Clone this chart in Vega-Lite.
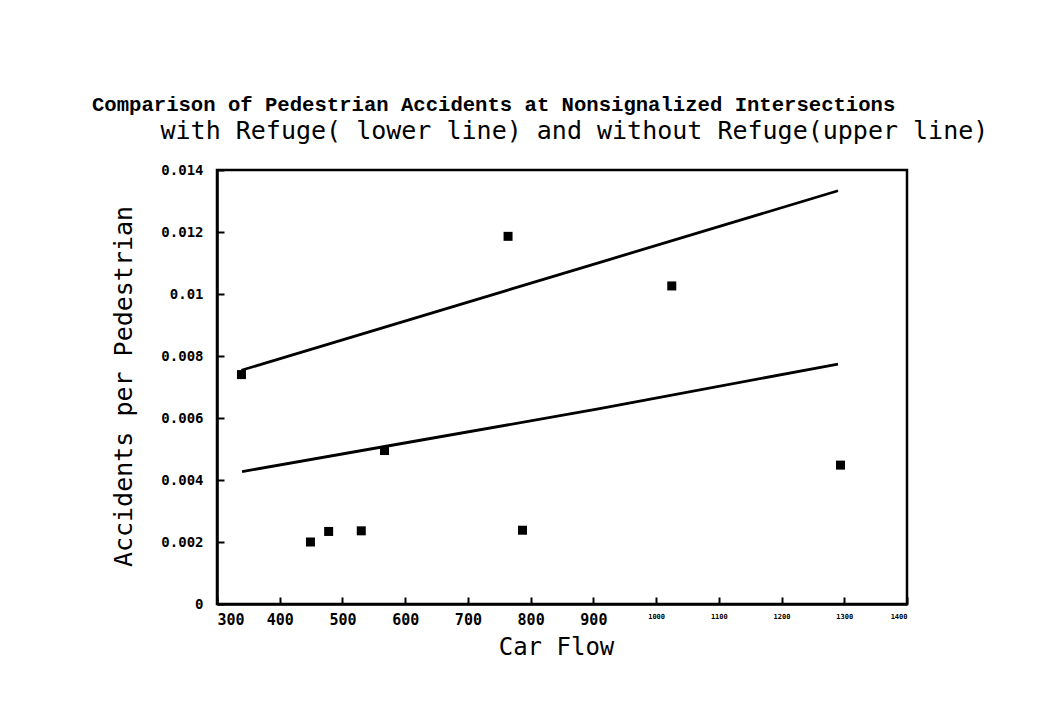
{
  "$schema": "https://vega.github.io/schema/vega-lite/v6.json",
  "width": 690,
  "height": 434,
  "autosize": "none",
  "padding": {"left": 217, "top": 170, "right": 133, "bottom": 107},
  "background": "white",
  "title": {
    "text": "Comparison of Pedestrian Accidents at Nonsignalized Intersections",
    "font": "Liberation Mono",
    "fontSize": 20.6,
    "fontWeight": "bold",
    "color": "black",
    "anchor": "start",
    "frame": "group",
    "dx": -125,
    "dy": 0,
    "offset": 2
  },
  "datasets": {
    "points": [
      {"flow": 339, "rate": 0.0074},
      {"flow": 449, "rate": 0.0020},
      {"flow": 478, "rate": 0.00234},
      {"flow": 530, "rate": 0.00236},
      {"flow": 567, "rate": 0.00495},
      {"flow": 764, "rate": 0.01186},
      {"flow": 787, "rate": 0.00238},
      {"flow": 1025, "rate": 0.01026},
      {"flow": 1294, "rate": 0.00448}
    ],
    "fits": [
      {"line": "without refuge (upper)", "flow": 339, "rate": 0.00754},
      {"line": "without refuge (upper)", "flow": 912, "rate": 0.01103},
      {"line": "without refuge (upper)", "flow": 1290, "rate": 0.01333},
      {"line": "with refuge (lower)", "flow": 340, "rate": 0.00427},
      {"line": "with refuge (lower)", "flow": 615, "rate": 0.00525},
      {"line": "with refuge (lower)", "flow": 910, "rate": 0.0063},
      {"line": "with refuge (lower)", "flow": 1290, "rate": 0.00774}
    ]
  },
  "layer": [
    {
      "data": {"name": "fits"},
      "mark": {"type": "line", "color": "black", "strokeWidth": 2.8},
      "encoding": {
        "x": {
          "field": "flow",
          "type": "quantitative",
          "scale": {"domain": [300, 1400], "nice": false, "zero": false},
          "axis": {
            "orient": "top",
            "domain": false,
            "ticks": false,
            "labels": false,
            "grid": false,
            "title": "with Refuge( lower line) and without Refuge(upper line)",
            "titleFont": "DejaVu Sans Mono",
            "titleFontSize": 25,
            "titleFontWeight": "normal",
            "titleColor": "black",
            "titleAlign": "left",
            "titleAnchor": "start",
            "titleBaseline": "alphabetic",
            "titleX": -57,
            "titleY": -32
          }
        },
        "y": {
          "field": "rate",
          "type": "quantitative",
          "scale": {"domain": [0, 0.014], "nice": false},
          "axis": {
            "title": "Accidents per Pedestrian",
            "values": [0, 0.002, 0.004, 0.006, 0.008, 0.01, 0.012, 0.014],
            "format": "~g",
            "grid": false,
            "domainColor": "black",
            "domainWidth": 2.5,
            "tickColor": "black",
            "tickWidth": 2,
            "tickSize": -7,
            "labelPadding": 21,
            "labelFont": "DejaVu Sans Mono",
            "labelFontSize": 14,
            "labelFontWeight": "bold",
            "labelColor": "black",
            "titleFont": "DejaVu Sans Mono",
            "titleFontSize": 25,
            "titleFontWeight": "normal",
            "titleColor": "black",
            "titleAngle": -90,
            "titleAlign": "center",
            "titleBaseline": "alphabetic",
            "titleX": -86,
            "titleY": 216
          }
        },
        "detail": {"field": "line"}
      }
    },
    {
      "data": {"name": "points"},
      "mark": {"type": "square", "size": 81, "color": "black", "opacity": 1},
      "encoding": {
        "x": {
          "field": "flow",
          "type": "quantitative",
          "scale": {"domain": [300, 1400], "nice": false, "zero": false},
          "axis": {
            "orient": "bottom",
            "title": "Car Flow",
            "values": [300, 400, 500, 600, 700, 800, 900, 1000, 1100, 1200, 1300, 1400],
            "format": "d",
            "grid": false,
            "domainColor": "black",
            "domainWidth": 2.5,
            "tickColor": "black",
            "tickWidth": 2,
            "tickSize": -7,
            "labelPadding": 15,
            "labelFont": "DejaVu Sans Mono",
            "labelFontSize": {"condition": {"test": "datum.value >= 1000", "value": 7}, "value": 15},
            "labelFontWeight": "bold",
            "labelColor": "black",
            "labelBaseline": "top",
            "titleFont": "DejaVu Sans Mono",
            "titleFontSize": 24,
            "titleFontWeight": "normal",
            "titleColor": "black",
            "titleAlign": "center",
            "titleBaseline": "alphabetic",
            "titleX": 339,
            "titleY": 50
          }
        },
        "y": {
          "field": "rate",
          "type": "quantitative",
          "scale": {"domain": [0, 0.014], "nice": false},
          "axis": {
            "title": "Accidents per Pedestrian",
            "values": [0, 0.002, 0.004, 0.006, 0.008, 0.01, 0.012, 0.014],
            "format": "~g",
            "grid": false,
            "domainColor": "black",
            "domainWidth": 2.5,
            "tickColor": "black",
            "tickWidth": 2,
            "tickSize": -7,
            "labelPadding": 21,
            "labelFont": "DejaVu Sans Mono",
            "labelFontSize": 14,
            "labelFontWeight": "bold",
            "labelColor": "black",
            "titleFont": "DejaVu Sans Mono",
            "titleFontSize": 25,
            "titleFontWeight": "normal",
            "titleColor": "black",
            "titleAngle": -90,
            "titleAlign": "center",
            "titleBaseline": "alphabetic",
            "titleX": -86,
            "titleY": 216
          }
        }
      }
    }
  ],
  "resolve": {"axis": {"x": "independent"}},
  "config": {
    "view": {"stroke": "black", "strokeWidth": 2.5}
  }
}
